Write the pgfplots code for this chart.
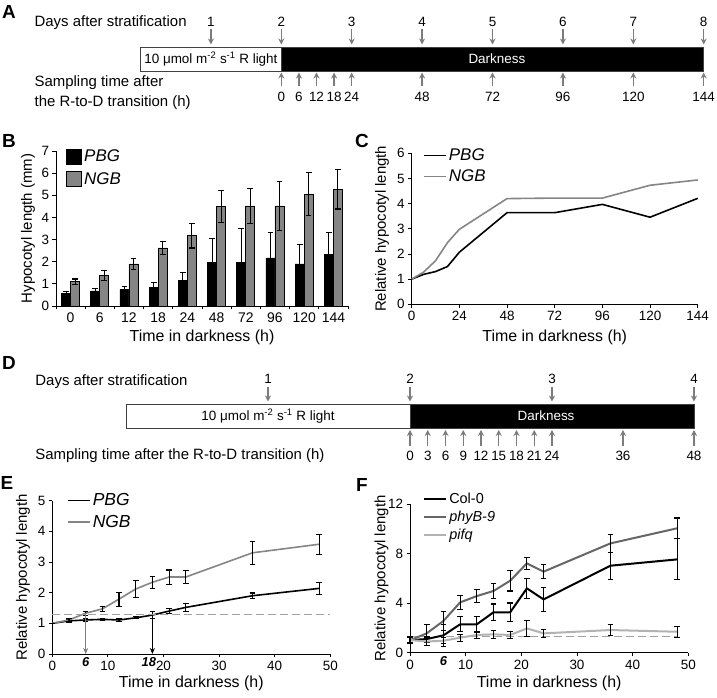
\documentclass[border=0pt]{standalone}
\usepackage{pgfplots}
\pgfplotsset{compat=1.18}
\usepackage{pgfplotstable}
\usepackage{fontspec}
\setmainfont{Liberation Sans}
\usetikzlibrary{arrows.meta}

\definecolor{ngb}{HTML}{858585}
\definecolor{arrg}{HTML}{7C7C7C}
\definecolor{phyb}{HTML}{666666}
\definecolor{pifq}{HTML}{B2B2B2}
\definecolor{dashg}{HTML}{A0A0A0}

\newcommand\fs[1]{\fontsize{#1}{#1}\selectfont}

\pgfplotstableread{
x PBG ePBG NGB eNGB
0 0.55 0.10 1.10 0.12
1 0.68 0.12 1.38 0.22
2 0.73 0.15 1.90 0.25
3 0.83 0.23 2.62 0.30
4 1.15 0.38 3.18 0.56
5 1.98 1.05 4.50 0.73
6 1.98 1.50 4.52 0.80
7 2.17 1.13 4.52 1.10
8 1.90 0.87 5.05 0.97
9 2.32 1.01 5.28 0.90
}\tabB

\pgfplotstableread{
h PBG NGB
0 1.00 1.00
6 1.19 1.28
12 1.30 1.73
18 1.50 2.45
24 2.07 2.98
48 3.64 4.20
72 3.64 4.22
96 3.97 4.22
120 3.46 4.73
144 4.21 4.94
}\tabC

\pgfplotstableread{
h PBG ePBG NGB eNGB
0 1.00 0.00 1.00 0.00
3 1.08 0.05 1.11 0.05
6 1.11 0.04 1.33 0.07
9 1.13 0.03 1.47 0.07
12 1.11 0.06 1.79 0.23
15 1.18 0.03 2.12 0.27
18 1.27 0.12 2.34 0.20
21 1.40 0.08 2.51 0.23
24 1.52 0.13 2.51 0.21
36 1.90 0.09 3.30 0.37
48 2.14 0.20 3.58 0.33
}\tabE

\pgfplotstableread{
h Col eCol phy ephy pif epif
0 1.02 0.27 1.00 0.25 1.02 0.20
3 1.10 0.18 1.56 0.70 0.90 0.35
6 1.40 0.90 2.56 0.80 0.97 0.25
9 2.29 0.60 4.06 0.55 1.21 0.28
12 2.29 0.62 4.57 0.50 1.43 0.28
15 3.26 0.67 4.98 0.60 1.48 0.30
18 3.26 0.75 5.81 0.83 1.43 0.28
21 5.19 0.80 7.21 0.47 1.96 0.62
24 4.30 0.94 6.54 0.55 1.56 0.30
36 7.02 1.10 8.82 0.73 1.83 0.45
48 7.53 1.65 10.04 0.83 1.69 0.45
}\tabF

\tikzset{tlarrow/.style={arrg, line width=1.4bp, -{Stealth[length=6bp,width=6bp]}}}

\pgfplotsset{
  panel/.style={
    scale only axis, clip=false, anchor=south west,
    axis x line*=bottom, axis y line*=left,
    axis line style={line width=0.9bp, black, -},
    tick align=outside, major tick length=3.5bp,
    every tick/.style={line width=0.9bp, black},
    /pgf/number format/assume math mode=true,
    tick label style={font=\fs{13.5}},
    xlabel style={font=\fs{16}},
    ylabel style={font=\fs{15}},
    legend cell align=left,
  },
  eb/.style={error bars/.cd, y dir=both, y explicit,
    error bar style={line width=1.1bp, black},
    error mark options={rotate=90, mark size=2.8bp, line width=1.1bp, black}},
  timeline/.style={scale only axis, axis lines=none, clip=false, anchor=south west},
  lineleg/.style={legend image code/.code={\draw[##1] (0bp,0bp) -- (22bp,0bp);}},
}

% timeline helpers (y = 698 - pixel row)
\newcommand\dA[1]{\draw[tlarrow] (axis cs:#1,669) -- (axis cs:#1,653.5);}
\newcommand\uA[1]{\draw[tlarrow] (axis cs:#1,612) -- (axis cs:#1,625.5);}
\newcommand\dD[1]{\draw[tlarrow] (axis cs:#1,311) -- (axis cs:#1,296.5);}
\newcommand\uD[1]{\draw[tlarrow] (axis cs:#1,252) -- (axis cs:#1,268);}

\begin{document}
\begin{tikzpicture}
\path[use as bounding box] (0bp,0bp) rectangle (717bp,698bp);

% ---------------- Panel A ----------------
\begin{axis}[timeline, at={(140.5bp,588bp)}, width=563.2bp, height=110bp,
  xmin=-48, xmax=144, ymin=588, ymax=698]
\addplot[draw=none] coordinates {(0,600)};
\draw[line width=0.9bp, black!75, fill=white] (axis cs:-48,651) rectangle (axis cs:0,627);
\draw[line width=0.9bp, black!75, fill=black] (axis cs:0,651) rectangle (axis cs:144,627);
\node[font=\fs{13.5}] at (axis cs:-24,639) {10 μmol m\textsuperscript{-2} s\textsuperscript{-1} R light};
\node[font=\fs{13.5}, text=white] at (axis cs:73.5,639) {Darkness};
\node[font=\fs{15}, anchor=base west] at (axis cs:-85.3,671) {Days after stratification};
\node[font=\fs{15}, anchor=base west] at (axis cs:-85.3,611) {Sampling time after};
\node[font=\fs{15}, anchor=base west] at (axis cs:-85.3,591) {the R-to-D transition (h)};
\dA{-24}\dA{0}\dA{24}\dA{48}\dA{72}\dA{96}\dA{120}\dA{144}
\node[font=\fs{13.5}, anchor=base] at (axis cs:-24,671.5) {1};
\node[font=\fs{13.5}, anchor=base] at (axis cs:0,671.5) {2};
\node[font=\fs{13.5}, anchor=base] at (axis cs:24,671.5) {3};
\node[font=\fs{13.5}, anchor=base] at (axis cs:48,671.5) {4};
\node[font=\fs{13.5}, anchor=base] at (axis cs:72,671.5) {5};
\node[font=\fs{13.5}, anchor=base] at (axis cs:96,671.5) {6};
\node[font=\fs{13.5}, anchor=base] at (axis cs:120,671.5) {7};
\node[font=\fs{13.5}, anchor=base] at (axis cs:144,671.5) {8};
\uA{0}\uA{6}\uA{12}\uA{18}\uA{24}\uA{48}\uA{72}\uA{96}\uA{120}\uA{144}
\node[font=\fs{13.5}, anchor=base] at (axis cs:0,596) {0};
\node[font=\fs{13.5}, anchor=base] at (axis cs:6,596) {6};
\node[font=\fs{13.5}, anchor=base] at (axis cs:12,596) {12};
\node[font=\fs{13.5}, anchor=base] at (axis cs:18,596) {18};
\node[font=\fs{13.5}, anchor=base] at (axis cs:24,596) {24};
\node[font=\fs{13.5}, anchor=base] at (axis cs:48,596) {48};
\node[font=\fs{13.5}, anchor=base] at (axis cs:72,596) {72};
\node[font=\fs{13.5}, anchor=base] at (axis cs:96,596) {96};
\node[font=\fs{13.5}, anchor=base] at (axis cs:120,596) {120};
\node[font=\fs{13.5}, anchor=base] at (axis cs:144,596) {144};
\end{axis}

% ---------------- Panel B ----------------
\begin{axis}[panel, at={(56bp,392bp)}, width=292bp, height=155bp,
  xmin=-0.5, xmax=9.5, ymin=0, ymax=7,
  ybar=0pt, bar width=9bp,
  xtick={-0.5,0.5,1.5,2.5,3.5,4.5,5.5,6.5,7.5,8.5,9.5},
  xticklabels={0,6,12,18,24,48,72,96,120,144,{}},
  x tick label style={xshift=14.6bp, font=\fs{14}},
  ytick={0,1,...,7},
  xlabel={Time in darkness (h)}, ylabel={Hypocotyl length (mm)},
  xlabel style={at={(axis description cs:0.5,-0.2)}, anchor=center},
  ylabel style={at={(axis description cs:-0.096,0.5)}, anchor=center},
  legend style={draw=none, fill=none, at={(0.035,1.02)}, anchor=north west,
    font=\fs{17}\itshape, row sep=5bp, inner sep=0pt,
    /tikz/every even column/.append style={column sep=4bp}},
  legend image code/.code={\draw[#1] (0bp,-7.5bp) rectangle (15bp,7.5bp);},
  ]
\addplot[fill=black, draw=black, line width=0.8bp, eb] table[x=x, y=PBG, y error=ePBG] {\tabB};
\addplot[fill=ngb, draw=black, line width=0.8bp, eb] table[x=x, y=NGB, y error=eNGB] {\tabB};
\legend{PBG, NGB}
\end{axis}

% ---------------- Panel C ----------------
\begin{axis}[panel, at={(411.7bp,393.7bp)}, width=286bp, height=151bp,
  xmin=0, xmax=144, ymin=0, ymax=6,
  xtick={0,24,...,144}, ytick={0,1,...,6},
  xlabel={Time in darkness (h)}, ylabel={Relative hypocotyl length},
  xlabel style={at={(axis description cs:0.5,-0.22)}, anchor=center},
  ylabel style={at={(axis description cs:-0.104,0.5)}, anchor=center},
  lineleg,
  legend style={draw=none, fill=none, at={(0.04,1.045)}, anchor=north west,
    font=\fs{17}\itshape, row sep=4bp, inner sep=0pt,
    /tikz/every even column/.append style={column sep=5bp}},
  ]
\addplot[black, line width=1.6bp] table[x=h, y=PBG] {\tabC};
\addplot[ngb, line width=1.6bp] table[x=h, y=NGB] {\tabC};
\legend{PBG, NGB}
\end{axis}

% ---------------- Panel D ----------------
\begin{axis}[timeline, at={(126bp,228bp)}, width=568bp, height=130bp,
  xmin=-48, xmax=48, ymin=228, ymax=358]
\addplot[draw=none] coordinates {(0,250)};
\draw[line width=0.9bp, black!75, fill=white] (axis cs:-48,294) rectangle (axis cs:0,270);
\draw[line width=0.9bp, black!75, fill=black] (axis cs:0,294) rectangle (axis cs:48,270);
\node[font=\fs{13.5}] at (axis cs:-24,282) {10 μmol m\textsuperscript{-2} s\textsuperscript{-1} R light};
\node[font=\fs{13.5}, text=white] at (axis cs:23,282) {Darkness};
\node[font=\fs{15}, anchor=base west] at (axis cs:-63.9,312) {Days after stratification};
\node[font=\fs{15}, anchor=base west] at (axis cs:-63.9,238) {Sampling time after the R-to-D transition (h)};
\dD{-24}\dD{0}\dD{24}\dD{48}
\node[font=\fs{13.5}, anchor=base] at (axis cs:-24,314) {1};
\node[font=\fs{13.5}, anchor=base] at (axis cs:0,314) {2};
\node[font=\fs{13.5}, anchor=base] at (axis cs:24,314) {3};
\node[font=\fs{13.5}, anchor=base] at (axis cs:48,314) {4};
\uD{0}\uD{3}\uD{6}\uD{9}\uD{12}\uD{15}\uD{18}\uD{21}\uD{24}\uD{36}\uD{48}
\node[font=\fs{13.5}, anchor=base] at (axis cs:0,237) {0};
\node[font=\fs{13.5}, anchor=base] at (axis cs:3,237) {3};
\node[font=\fs{13.5}, anchor=base] at (axis cs:6,237) {6};
\node[font=\fs{13.5}, anchor=base] at (axis cs:9,237) {9};
\node[font=\fs{13.5}, anchor=base] at (axis cs:12,237) {12};
\node[font=\fs{13.5}, anchor=base] at (axis cs:15,237) {15};
\node[font=\fs{13.5}, anchor=base] at (axis cs:18,237) {18};
\node[font=\fs{13.5}, anchor=base] at (axis cs:21,237) {21};
\node[font=\fs{13.5}, anchor=base] at (axis cs:24,237) {24};
\node[font=\fs{13.5}, anchor=base] at (axis cs:36,237) {36};
\node[font=\fs{13.5}, anchor=base] at (axis cs:48,237) {48};
\end{axis}

% ---------------- Panel E ----------------
\begin{axis}[panel, at={(52.3bp,44bp)}, width=278bp, height=153.3bp,
  xmin=0, xmax=50, ymin=0, ymax=5,
  xtick={0,10,...,50}, ytick={0,1,...,5},
  extra x ticks={6,18},
  extra x tick labels={\textbf{\textit{6}},\textbf{\textit{18}}\hspace*{7bp}},
  extra x tick style={major tick length=0bp, tick label style={font=\fs{13}}},
  xlabel={Time in darkness (h)}, ylabel={Relative hypocotyl length},
  xlabel style={at={(axis description cs:0.5,-0.19)}, anchor=center},
  ylabel style={at={(axis description cs:-0.105,0.5)}, anchor=center},
  lineleg,
  legend style={draw=none, fill=none, at={(0.053,1.06)}, anchor=north west,
    font=\fs{17.5}\itshape, row sep=4bp, inner sep=0pt,
    /tikz/every even column/.append style={column sep=5bp}},
  ]
\addplot[black, line width=1.6bp, eb] table[x=h, y=PBG, y error=ePBG] {\tabE};
\addplot[ngb, line width=1.6bp, eb] table[x=h, y=NGB, y error=eNGB] {\tabE};
\legend{PBG, NGB}
\addplot[dashg, line width=1bp, dash pattern=on 8bp off 4bp, forget plot] coordinates {(0,1.3) (50,1.3)};
\addplot[arrg, line width=1.3bp, -{Stealth[length=6bp,width=5bp]}, forget plot] coordinates {(6,1.33) (6,0)};
\addplot[black, line width=1.3bp, -{Stealth[length=6bp,width=5bp]}, forget plot] coordinates {(18,1.27) (18,0)};
\end{axis}

% ---------------- Panel F ----------------
\begin{axis}[panel, at={(410bp,45.3bp)}, width=278.3bp, height=148.7bp,
  xmin=0, xmax=50, ymin=0, ymax=12,
  xtick={0,10,...,50}, ytick={0,4,8,12},
  extra x ticks={6}, extra x tick labels={\textbf{\textit{6}}},
  extra x tick style={major tick length=0bp, tick label style={font=\fs{13}}},
  xlabel={Time in darkness (h)}, ylabel={Relative hypocotyl length},
  xlabel style={at={(axis description cs:0.5,-0.204)}, anchor=center},
  ylabel style={at={(axis description cs:-0.102,0.5)}, anchor=center},
  lineleg,
  legend style={draw=none, fill=none, at={(0.047,1.09)}, anchor=north west,
    font=\fs{14.5}, row sep=2bp, inner sep=0pt,
    /tikz/every even column/.append style={column sep=4bp}},
  ]
\addplot[dashg, line width=1bp, dash pattern=on 8bp off 4bp, forget plot] coordinates {(0,1.3) (48,1.3)};
\addplot[black, line width=2bp, eb] table[x=h, y=Col, y error=eCol] {\tabF};
\addplot[phyb, line width=2bp, eb] table[x=h, y=phy, y error=ephy] {\tabF};
\addplot[pifq, line width=2bp, eb] table[x=h, y=pif, y error=epif] {\tabF};
\legend{Col-0, \textit{phyB-9}, \textit{pifq}}
\end{axis}

% panel letters
\node[font=\fs{19}\bfseries] at (9bp,686bp) {A};
\node[font=\fs{19}\bfseries] at (9bp,557bp) {B};
\node[font=\fs{19}\bfseries] at (362bp,557bp) {C};
\node[font=\fs{19}\bfseries] at (9bp,335bp) {D};
\node[font=\fs{19}\bfseries] at (7bp,215bp) {E};
\node[font=\fs{19}\bfseries] at (362bp,213bp) {F};
\end{tikzpicture}
\end{document}
